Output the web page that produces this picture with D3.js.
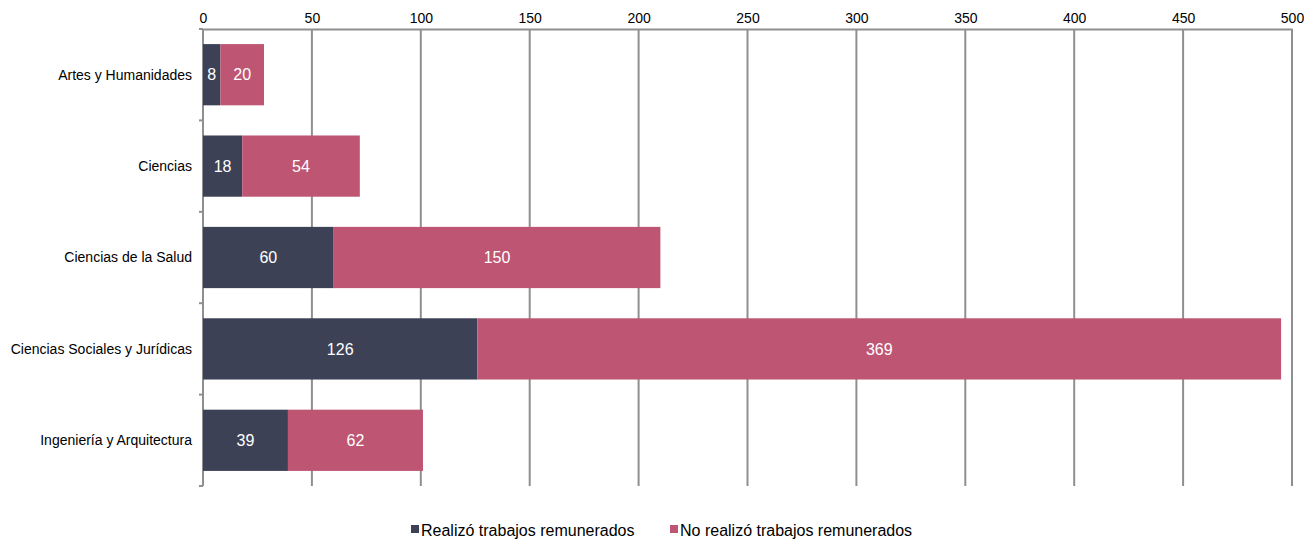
<!DOCTYPE html>
<meta charset="utf-8">
<style>
	body { margin: 0; background: #fff; }
	text { font-family: "Liberation Sans", Arial, Helvetica, sans-serif; }
</style>

<div class="chart"></div>

<script src="https://d3js.org/d3.v7.min.js"></script>

<script>
	var categories = ["Artes y Humanidades", "Ciencias", "Ciencias de la Salud", "Ciencias Sociales y Jurídicas", "Ingeniería y Arquitectura"];
	var seriesNames = ["Realizó trabajos remunerados", "No realizó trabajos remunerados"];
	var realizo = [8, 18, 60, 126, 39];
	var noRealizo = [20, 54, 150, 369, 62];
	var xTicks = [0, 50, 100, 150, 200, 250, 300, 350, 400, 450, 500];
	var colors = ["#3d4156", "#be5673"];

	var margin = {top: 29, right: 12, bottom: 53, left: 203},
			width = 1304 - margin.left - margin.right,
			height = 539 - margin.top - margin.bottom;

	var svg = d3.select('.chart')
			.append("svg")
			.attr("width", 1304)
			.attr("height", 539)
			.append("g")
			.attr("transform", "translate(" + margin.left + "," + margin.top + ")");

	var xScale = d3.scaleLinear()
			.domain([0, 500])
			.range([0, 1089]);

	var yScale = d3.scaleBand()
			.domain(categories)
			.range([0, 457])
			.paddingInner(0.33)
			.paddingOuter(0.165);

	// vertical grid lines
	svg.append('g')
			.selectAll('line')
			.data(xTicks)
			.enter().append('line')
			.attr('x1', function(d) { return xScale(d); })
			.attr('x2', function(d) { return xScale(d); })
			.attr('y1', 0)
			.attr('y2', 457)
			.attr('stroke', '#8f8f8f')
			.attr('stroke-width', 2);

	// top axis
	var xAxis = svg.append('g')
			.call(d3.axisTop(xScale).tickValues(xTicks).tickSize(0).tickPadding(6));
	xAxis.select('.domain').attr('stroke', '#8f8f8f').attr('stroke-width', 2);
	xAxis.selectAll('text')
			.attr('fill', '#000')
			.style('font-size', '14px');

	// left axis with ticks at band edges
	var edges = d3.range(categories.length + 1).map(function(i) { return i * 457 / categories.length; });
	svg.append('line')
			.attr('x1', 0).attr('x2', 0)
			.attr('y1', 0).attr('y2', 457)
			.attr('stroke', '#8f8f8f').attr('stroke-width', 2);
	svg.append('g')
			.selectAll('line')
			.data(edges)
			.enter().append('line')
			.attr('x1', -4).attr('x2', 0)
			.attr('y1', function(d) { return d; })
			.attr('y2', function(d) { return d; })
			.attr('stroke', '#8f8f8f').attr('stroke-width', 2);

	svg.append('g')
			.selectAll('text')
			.data(categories)
			.enter().append('text')
			.attr('x', -11)
			.attr('y', function(d) { return yScale(d) + yScale.bandwidth() / 2; })
			.attr('dy', '0.35em')
			.attr('text-anchor', 'end')
			.style('font-size', '14px')
			.attr('fill', '#000')
			.text(function(d) { return d; });

	var rows = categories.map(function(c, i) {
		return [
			{cat: c, x0: 0, x1: realizo[i], value: realizo[i], s: 0},
			{cat: c, x0: realizo[i], x1: realizo[i] + noRealizo[i], value: noRealizo[i], s: 1}
		];
	});
	var segments = [].concat.apply([], rows);

	var bars = svg.append('g')
			.selectAll('g')
			.data(segments)
			.enter().append('g');

	bars.append('rect')
			.attr('x', function(d) { return xScale(d.x0); })
			.attr('y', function(d) { return yScale(d.cat); })
			.attr('width', function(d) { return xScale(d.x1) - xScale(d.x0); })
			.attr('height', yScale.bandwidth())
			.attr('fill', function(d) { return colors[d.s]; });

	bars.append('text')
			.attr('x', function(d) { return (xScale(d.x0) + xScale(d.x1)) / 2; })
			.attr('y', function(d) { return yScale(d.cat) + yScale.bandwidth() / 2; })
			.attr('dy', '0.35em')
			.attr('text-anchor', 'middle')
			.attr('fill', '#fff')
			.style('font-size', '16px')
			.text(function(d) { return d.value; });

	// legend
	var legend = d3.select('svg').append('g')
			.attr('transform', 'translate(0,536)');
	var legendX = [411, 670];
	seriesNames.forEach(function(name, i) {
		legend.append('rect')
				.attr('x', legendX[i])
				.attr('y', -11)
				.attr('width', 8)
				.attr('height', 8)
				.attr('fill', colors[i]);
		legend.append('text')
				.attr('x', legendX[i] + 10)
				.attr('y', 0)
				.style('font-size', '16px')
				.attr('fill', '#000')
				.text(name);
	});
</script>
